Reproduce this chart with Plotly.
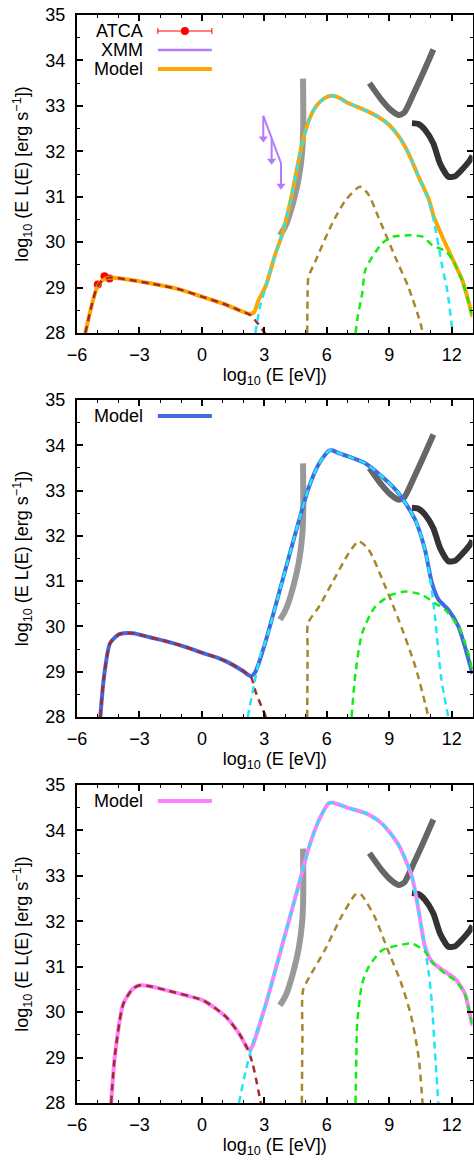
import plotly.graph_objects as go

# ---------------- data ----------------
# Sensitivity curves (same in all panels)
sens1_x = [4.86, 4.87, 4.82, 4.65, 4.40, 4.10, 3.95, 3.75]
sens1_y = [33.60, 32.60, 32.00, 31.40, 30.90, 30.45, 30.30, 30.15]
sens2_x = [8.05, 8.60, 9.10, 9.45, 9.72, 10.20, 10.70, 11.12]
sens2_y = [33.50, 33.15, 32.90, 32.80, 32.85, 33.30, 33.80, 34.24]
sens3_x = [10.09, 10.40, 10.72, 11.12, 11.44, 11.84, 12.16, 12.50, 12.87, 13.0]
sens3_y = [32.62, 32.60, 32.47, 32.17, 31.73, 31.44, 31.45, 31.60, 31.80, 31.90]

# Panel 1 observations
atca_x = [-5.00, -4.68, -4.44]
atca_y = [29.07, 29.25, 29.20]
atca_xerr = [0.05, 0.05, 0.05]
xmm_x = [2.95, 3.35, 3.80]
xmm_y = [32.78, 32.29, 31.74]

# Panel 1 model and components
m1_x = [-5.60, -5.30, -5.04, -4.80, -4.40, -3.50, -2.00, -1.00, 0.00, 1.00, 1.80, 2.30, 2.50,
        2.70, 3.08, 3.50, 3.88, 4.30, 4.83, 5.20, 5.50, 5.90, 6.20, 6.50, 7.00, 7.86, 8.50,
        9.00, 9.50, 9.93, 10.40, 10.91, 11.15, 11.55, 12.03, 12.51, 12.83, 13.0]
m1_y = [28.00, 28.60, 29.00, 29.15, 29.22, 29.17, 29.05, 28.95, 28.80, 28.65, 28.50, 28.42, 28.45,
        28.70, 29.05, 29.70, 30.20, 31.00, 32.20, 32.75, 33.00, 33.17, 33.22, 33.20, 33.07, 32.90, 32.75,
        32.58, 32.30, 31.95, 31.45, 30.93, 30.55, 30.12, 29.64, 29.16, 28.66, 28.35]
r1_x = [-5.60, -5.30, -5.04, -4.80, -4.40, -3.50, -2.00, -1.00, 0.00, 1.00, 1.80, 2.30, 2.70, 3.10]
r1_y = [28.00, 28.60, 29.00, 29.15, 29.22, 29.17, 29.05, 28.95, 28.80, 28.65, 28.50, 28.40, 28.20, 27.95]
c1_x = [2.57, 2.80, 3.08, 3.50, 3.88, 4.30, 4.83, 5.20, 5.50, 5.90, 6.20, 6.50, 7.00, 7.86, 8.50,
        9.00, 9.50, 9.93, 10.40, 10.91, 11.15, 11.55, 11.80, 12.03]
c1_y = [28.00, 28.60, 29.03, 29.70, 30.20, 31.00, 32.20, 32.75, 33.00, 33.17, 33.22, 33.20, 33.07, 32.90, 32.75,
        32.58, 32.30, 31.95, 31.45, 30.90, 30.45, 29.46, 28.90, 28.05]
b1_x = [5.06, 5.08, 5.12, 5.47, 6.26, 6.90, 7.60, 8.00, 8.48, 9.29, 9.93, 10.51, 10.60]
b1_y = [28.00, 28.90, 29.23, 29.60, 30.41, 30.92, 31.22, 31.05, 30.55, 29.67, 29.00, 28.20, 28.00]
g1_x = [7.38, 7.50, 7.70, 7.86, 8.65, 9.16, 9.93, 10.60, 11.07, 11.71, 12.03, 12.51, 12.83, 13.0]
g1_y = [28.00, 28.40, 28.87, 29.40, 29.97, 30.12, 30.15, 30.12, 29.93, 29.80, 29.62, 29.14, 28.64, 28.33]

# Panel 2 model and components
m2_x = [-4.88, -4.70, -4.41, -4.00, -3.77, -3.30, -2.50, -1.70, -0.80, 0.05, 0.80, 1.33, 1.96, 2.36,
        2.55, 2.68, 3.08, 3.88, 4.67, 5.15, 5.63, 6.10, 6.25, 6.60, 7.06, 7.86, 8.65, 9.45, 10.25,
        10.72, 11.05, 11.37, 11.84, 12.32, 12.63, 12.90, 13.0]
m2_y = [28.00, 28.90, 29.63, 29.82, 29.85, 29.85, 29.76, 29.67, 29.55, 29.41, 29.30, 29.19, 29.02, 28.90,
        28.98, 29.12, 29.70, 31.03, 32.35, 33.09, 33.60, 33.88, 33.89, 33.82, 33.75, 33.60, 33.31, 32.94, 32.35,
        31.69, 30.96, 30.59, 30.37, 30.00, 29.56, 29.12, 28.95]
r2_x = [-4.88, -4.70, -4.41, -4.00, -3.77, -3.30, -2.50, -1.70, -0.80, 0.05, 0.80, 1.33, 1.96, 2.36, 2.60, 3.08]
r2_y = [28.00, 28.90, 29.63, 29.82, 29.85, 29.85, 29.76, 29.67, 29.55, 29.41, 29.30, 29.19, 29.02, 28.88, 28.53, 28.00]
c2_x = [2.20, 2.50, 2.80, 3.08, 3.88, 4.67, 5.15, 5.63, 6.10, 6.25, 6.60, 7.06, 7.86, 8.65, 9.45, 10.25,
        10.72, 11.00, 11.20, 11.50, 11.84]
c2_y = [28.00, 28.70, 29.35, 29.70, 31.03, 32.35, 33.09, 33.60, 33.88, 33.89, 33.82, 33.75, 33.60, 33.31, 32.94, 32.35,
        31.69, 30.95, 30.20, 28.85, 28.00]
b2_x = [5.06, 5.08, 5.10, 5.63, 6.42, 7.06, 7.54, 8.02, 8.81, 9.45, 10.25, 10.72, 10.88]
b2_y = [28.00, 29.50, 30.07, 30.44, 31.10, 31.62, 31.88, 31.69, 30.88, 30.15, 29.12, 28.31, 28.00]
g2_x = [7.19, 7.38, 7.70, 8.33, 9.13, 9.77, 10.57, 11.20, 11.68, 12.32, 12.80, 13.0]
g2_y = [28.00, 28.97, 29.85, 30.44, 30.70, 30.77, 30.70, 30.51, 30.37, 30.00, 29.41, 29.00]

# Panel 3 model and components
m3_x = [-4.36, -4.17, -3.77, -3.30, -2.97, -2.50, -1.70, 0.05, 0.60, 1.17, 1.80, 2.20, 2.30, 2.44,
        3.08, 3.88, 4.67, 5.15, 5.63, 6.10, 6.30, 7.06, 7.86, 8.65, 9.45, 10.09, 10.41, 10.72,
        11.05, 11.68, 12.16, 12.63, 12.90, 13.0]
m3_y = [28.00, 29.08, 30.19, 30.52, 30.59, 30.57, 30.48, 30.26, 30.10, 29.89, 29.52, 29.20, 29.17, 29.27,
        30.19, 31.51, 32.83, 33.64, 34.23, 34.60, 34.61, 34.49, 34.38, 34.15, 33.68, 32.98, 32.24, 31.44,
        31.11, 30.89, 30.74, 30.41, 29.90, 29.70]
r3_x = [-4.36, -4.17, -3.77, -3.30, -2.97, -2.50, -1.70, 0.05, 0.60, 1.17, 1.80, 2.20, 2.44, 2.83]
r3_y = [28.00, 29.08, 30.19, 30.52, 30.59, 30.57, 30.48, 30.26, 30.10, 29.89, 29.52, 29.18, 28.86, 28.00]
c3_x = [1.78, 2.10, 2.44, 3.08, 3.88, 4.67, 5.15, 5.63, 6.10, 6.30, 7.06, 7.86, 8.65, 9.45, 10.09, 10.41,
        10.72, 10.90, 11.05, 11.20, 11.36]
c3_y = [28.00, 28.70, 29.30, 30.19, 31.51, 32.83, 33.64, 34.23, 34.60, 34.61, 34.49, 34.38, 34.15, 33.68, 32.98, 32.24,
        31.40, 30.85, 30.19, 29.10, 28.00]
b3_x = [4.80, 4.83, 4.86, 5.26, 5.90, 6.70, 7.35, 7.50, 7.67, 8.30, 8.94, 9.58, 10.06, 10.41, 10.60]
b3_y = [28.00, 29.50, 30.48, 30.85, 31.36, 32.10, 32.58, 32.62, 32.58, 32.10, 31.36, 30.63, 29.90, 29.01, 28.00]
g3_x = [7.38, 7.42, 7.46, 7.70, 8.02, 8.65, 9.45, 10.09, 10.72, 11.05, 11.68, 12.16, 12.63, 12.90, 13.0]
g3_y = [28.00, 29.00, 29.75, 30.63, 31.00, 31.36, 31.47, 31.51, 31.33, 31.11, 30.85, 30.70, 30.41, 29.90, 29.70]

x_ticks = [-6, -3, 0, 3, 6, 9, 12]
y_ticks = [28, 29, 30, 31, 32, 33, 34, 35]

# ---------------- styling ----------------
FONT = "Liberation Sans, Arial, Helvetica, sans-serif"
FS = 18
W, H = 474, 1162
X0, X1 = 77, 472.5
panels_px = [(15, 333), (400, 717), (785, 1103)]
model_colors = ["#ffa500", "#4169e1", "#ff80ff"]
C_RED = "#a52a2a"
C_CYAN = "#22e6f5"
C_BROWN = "#a8862c"
C_GREEN = "#11ee11"
DASH = "7px,5px"
ARROW = 0.6  # length of upper-limit arrows (dex)

fig = go.Figure()

def ax_names(i):
    s = "" if i == 0 else str(i + 1)
    return "x" + s, "y" + s

for i in range(3):
    xa, ya = ax_names(i)
    # sensitivity curves
    for sx, sy, col in [(sens1_x, sens1_y, "#999999"), (sens2_x, sens2_y, "#666666"),
                        (sens3_x, sens3_y, "#333333")]:
        fig.add_trace(go.Scatter(x=sx, y=sy, mode="lines", xaxis=xa, yaxis=ya,
                                 line=dict(color=col, width=6, shape="spline", smoothing=0.6),
                                 showlegend=False, hoverinfo="skip"))

# panel 1 data points
fig.add_trace(go.Scatter(x=atca_x, y=atca_y, mode="markers", xaxis="x", yaxis="y",
                         marker=dict(color="#ff0000", size=8),
                         error_x=dict(type="data", array=atca_xerr, color="#ff0000", thickness=1, width=2),
                         showlegend=False))
xmm_col = "#b57bff"
fig.add_trace(go.Scatter(x=xmm_x, y=xmm_y, mode="lines", xaxis="x", yaxis="y",
                         line=dict(color=xmm_col, width=2), showlegend=False))
arr_x, arr_y = [], []
for xv, yv in zip(xmm_x, xmm_y):
    arr_x += [xv, xv, None]
    arr_y += [yv, yv - ARROW + 0.1, None]
fig.add_trace(go.Scatter(x=arr_x, y=arr_y, mode="lines", xaxis="x", yaxis="y",
                         line=dict(color=xmm_col, width=2), showlegend=False))
fig.add_trace(go.Scatter(x=xmm_x, y=[v - ARROW + 0.1 for v in xmm_y], mode="markers", xaxis="x", yaxis="y",
                         marker=dict(symbol="triangle-down", color=xmm_col, size=8, line=dict(width=0)),
                         showlegend=False))

panel_data = [
    (m1_x, m1_y, r1_x, r1_y, c1_x, c1_y, b1_x, b1_y, g1_x, g1_y),
    (m2_x, m2_y, r2_x, r2_y, c2_x, c2_y, b2_x, b2_y, g2_x, g2_y),
    (m3_x, m3_y, r3_x, r3_y, c3_x, c3_y, b3_x, b3_y, g3_x, g3_y),
]
for i, (mx, my, rx, ry, cx, cy, bx, by, gx, gy) in enumerate(panel_data):
    xa, ya = ax_names(i)
    fig.add_trace(go.Scatter(x=mx, y=my, mode="lines", xaxis=xa, yaxis=ya,
                             line=dict(color=model_colors[i], width=4, shape="spline", smoothing=0.7),
                             showlegend=False))
    for cxs, cys, col in [(rx, ry, C_RED), (cx, cy, C_CYAN), (bx, by, C_BROWN), (gx, gy, C_GREEN)]:
        fig.add_trace(go.Scatter(x=cxs, y=cys, mode="lines", xaxis=xa, yaxis=ya,
                                 line=dict(color=col, width=2.5, dash=DASH, shape="spline", smoothing=0.7),
                                 showlegend=False))

layout = dict(width=W, height=H, margin=dict(l=0, r=0, t=0, b=0),
              paper_bgcolor="white", plot_bgcolor="white",
              font=dict(family=FONT, size=FS, color="black"), showlegend=False)

annotations = []
shapes = []
for i, (top, bot) in enumerate(panels_px):
    xa, ya = ax_names(i)
    xkey = "xaxis" + ("" if i == 0 else str(i + 1))
    ykey = "yaxis" + ("" if i == 0 else str(i + 1))
    common = dict(showline=True, linewidth=2, linecolor="black", mirror="allticks",
                  ticks="inside", ticklen=6, tickwidth=1.5, tickcolor="black",
                  showgrid=False, zeroline=False, automargin=False,
                  tickfont=dict(family=FONT, size=FS, color="black"))
    layout[xkey] = dict(common, domain=[X0 / W, X1 / W], range=[-6, 13], tickvals=x_ticks,
                        anchor=ya, ticklabelstandoff=4,
                        minor=dict(ticks="inside", ticklen=3, tickwidth=1.2, dtick=1, tick0=0, tickcolor="black"),
                        title=dict(text="log<sub>10</sub> (E [eV])", standoff=5,
                                   font=dict(family=FONT, size=FS)))
    layout[ykey] = dict(common, domain=[1 - bot / H, 1 - top / H], range=[28, 35], tickvals=y_ticks,
                        anchor=xa, ticklabelstandoff=6,
                        minor=dict(ticks="inside", ticklen=3, tickwidth=1.2, dtick=0.5, tick0=0, tickcolor="black"),
                        title=dict(text="log<sub>10</sub> (E L(E) [erg s<sup>−1</sup>])", standoff=12,
                                   font=dict(family=FONT, size=FS)))

# legends (drawn in axis-domain coordinates)
def legend_entry(i, row, label, color, width, kind="line"):
    xa, ya = ax_names(i)
    top, bot = panels_px[i]
    hpx = bot - top
    yd = 1 - (16 + 19 * row) / hpx
    annotations.append(dict(xref=xa + " domain", yref=ya + " domain", x=0.172, y=yd,
                            text=label, showarrow=False, xanchor="right", yanchor="middle",
                            font=dict(family=FONT, size=FS, color="black")))
    shapes.append(dict(type="line", xref=xa + " domain", yref=ya + " domain",
                       x0=0.2045, x1=0.341, y0=yd, y1=yd, line=dict(color=color, width=width)))
    if kind == "err":
        capd = 3 / hpx
        for xc in (0.2045, 0.341):
            shapes.append(dict(type="line", xref=xa + " domain", yref=ya + " domain",
                               x0=xc, x1=xc, y0=yd - capd, y1=yd + capd,
                               line=dict(color=color, width=1)))
        rx = 4 / (X1 - X0)
        ry = 4 / hpx
        xc = (0.2045 + 0.341) / 2
        shapes.append(dict(type="circle", xref=xa + " domain", yref=ya + " domain",
                           x0=xc - rx, x1=xc + rx, y0=yd - ry, y1=yd + ry,
                           fillcolor=color, line=dict(color=color, width=0)))

legend_entry(0, 0, "ATCA", "#ff0000", 1, kind="err")
legend_entry(0, 1, "XMM", xmm_col, 2.5)
legend_entry(0, 2, "Model", model_colors[0], 4)
legend_entry(1, 0, "Model", model_colors[1], 4)
legend_entry(2, 0, "Model", model_colors[2], 4)

layout["annotations"] = annotations
layout["shapes"] = shapes
fig.update_layout(**layout)
fig.write_html("out.html", config={"displayModeBar": False},
               post_script="document.body.style.margin='0';document.body.style.overflow='hidden';")
